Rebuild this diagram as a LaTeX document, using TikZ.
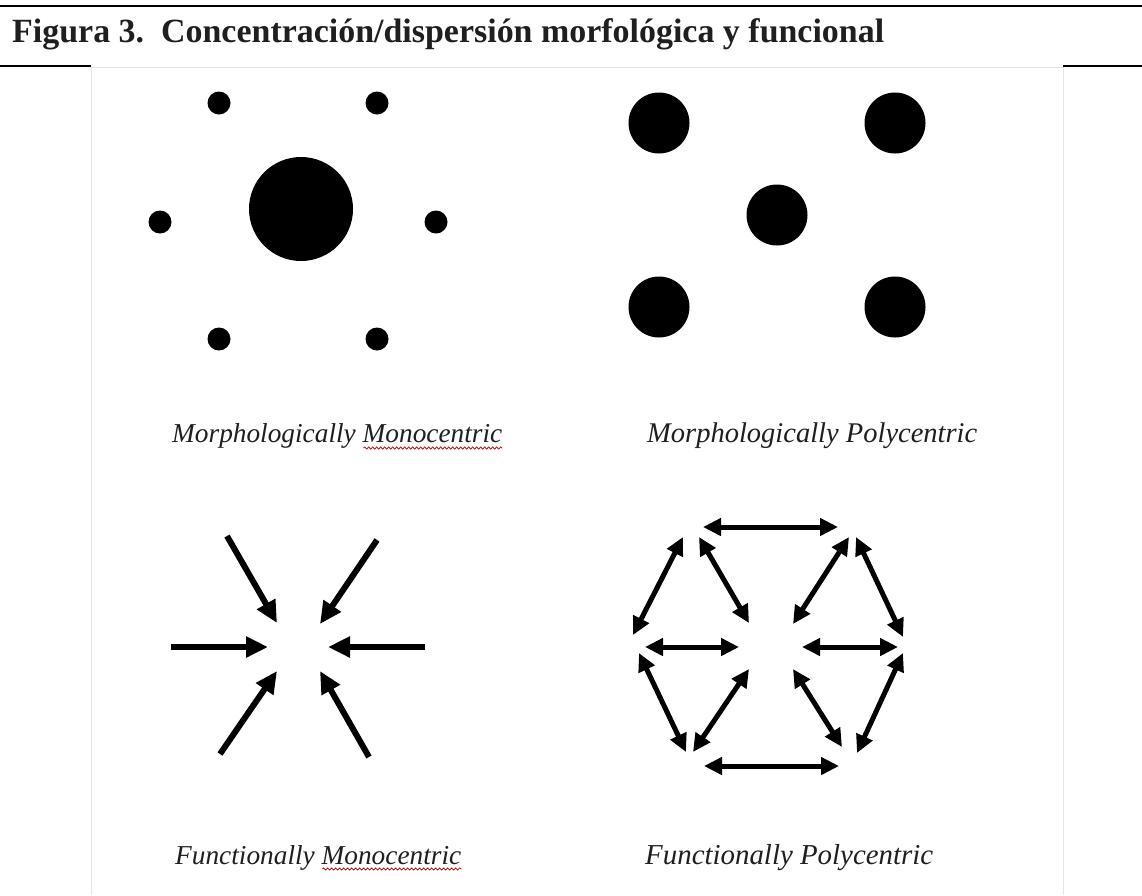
\documentclass[tikz,border=0pt]{standalone}
\usepackage{fontspec}
\usepackage{graphicx}
\setmainfont{Liberation Serif}
\usetikzlibrary{arrows.meta,decorations.pathmorphing}
\begin{document}
\begin{tikzpicture}[x=1pt,y=-1pt,
  dotn/.style={circle,fill=black,draw=none,inner sep=0pt,minimum size=#1},
  arr/.style={line width=6pt,-{Triangle[length=22pt,width=20pt]}},
  darr/.style={line width=5pt,{Triangle[length=18pt,width=17pt]}-{Triangle[length=18pt,width=17pt]}},
  lab/.style={inner sep=0pt,anchor=base west,text=black!88},
  wavy/.style={red!75!black,line width=0.7pt,decorate,decoration={snake,amplitude=1.1pt,segment length=4pt}},
  rule/.style={line width=2pt,black},
  frame/.style={line width=0.8pt,black!10}]
\useasboundingbox (0,0) rectangle (1142,895);
\fill[white] (0,0) rectangle (1142,895);

% header rules
\draw[rule] (0,6) coordinate (r1a) -- (1142,6) coordinate (r1b);
\draw[rule] (0,66) coordinate (r2a) -- (91,66) coordinate (r2b);
\draw[rule] (1063,66) coordinate (r2c) -- (1142,66) coordinate (r2d);
\draw[frame] (91,67) coordinate (fa) -- (1063,67) coordinate (fb);
\draw[frame] (fa) -- (91,895) coordinate (fc);
\draw[frame] (fb) -- (1063,895) coordinate (fd);

\node[lab] (title) at (12,42) {\resizebox{872pt}{!}{\bfseries Figura 3.\ \ Concentración/dispersión morfológica y funcional}};

% morphologically monocentric
\node[dotn=104pt] (mbig) at (301,209) {};
\node[dotn=23pt] (m1) at (219,103) {};
\node[dotn=23pt] (m2) at (377,103) {};
\node[dotn=23pt] (m3) at (160,222) {};
\node[dotn=23pt] (m4) at (436,222) {};
\node[dotn=23pt] (m5) at (219,339) {};
\node[dotn=23pt] (m6) at (377,339) {};

% morphologically polycentric
\node[dotn=61pt] (p1) at (659,123) {};
\node[dotn=61pt] (p2) at (895,123) {};
\node[dotn=61pt] (p3) at (777,215) {};
\node[dotn=61pt] (p4) at (659,307) {};
\node[dotn=61pt] (p5) at (895,307) {};

% labels
\node[lab] (l1) at (172,442) {\resizebox{330pt}{!}{\itshape Morphologically Monocentric}};
\node[lab] (l2) at (647,442) {\resizebox{330pt}{!}{\itshape Morphologically Polycentric}};
\node[lab] (l3) at (175,864) {\resizebox{286pt}{!}{\itshape Functionally Monocentric}};
\node[lab] (l4) at (645,864) {\resizebox{288pt}{!}{\itshape Functionally Polycentric}};
\draw[wavy] ([xshift=-139pt,yshift=-6pt]l1.base east) -- ([yshift=-6pt]l1.base east);
\draw[wavy] ([xshift=-139pt,yshift=-5pt]l3.base east) -- ([yshift=-5pt]l3.base east);

% functionally monocentric
\coordinate (a1s) at (227,536); \coordinate (a1e) at (277,623);
\coordinate (a2s) at (377,540); \coordinate (a2e) at (320,624);
\coordinate (a3s) at (171,647); \coordinate (a3e) at (268,647);
\coordinate (a4s) at (425,647); \coordinate (a4e) at (328,647);
\coordinate (a5s) at (220,754); \coordinate (a5e) at (277,671);
\coordinate (a6s) at (369,757); \coordinate (a6e) at (320,671);
\foreach \i in {1,...,6} \draw[arr] (a\i s) -- (a\i e);

% functionally polycentric
\coordinate (b1s) at (703,527); \coordinate (b1e) at (838,527);
\coordinate (b2s) at (704,766); \coordinate (b2e) at (839,766);
\coordinate (b3s) at (645,647); \coordinate (b3e) at (739,647);
\coordinate (b4s) at (802,647); \coordinate (b4e) at (898,647);
\coordinate (b5s) at (683,537); \coordinate (b5e) at (633,635);
\coordinate (b6s) at (699,537); \coordinate (b6e) at (749,623);
\coordinate (b7s) at (849,537); \coordinate (b7e) at (793,624);
\coordinate (b8s) at (856,537); \coordinate (b8e) at (903,637);
\coordinate (b9s) at (639,653); \coordinate (b9e) at (686,752);
\coordinate (b10s) at (749,669); \coordinate (b10e) at (693,752);
\coordinate (b11s) at (793,669); \coordinate (b11e) at (842,747);
\coordinate (b12s) at (903,653); \coordinate (b12e) at (857,753);
\foreach \i in {1,...,12} \draw[darr] (b\i s) -- (b\i e);
\end{tikzpicture}
\end{document}
